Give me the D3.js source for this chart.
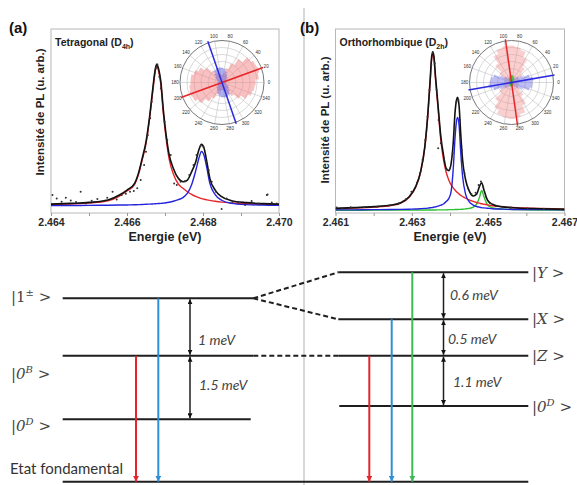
<!DOCTYPE html>
<html><head><meta charset="utf-8">
<script src="https://cdn.jsdelivr.net/npm/d3@7"></script>
<style>body{margin:0;background:#fff}svg{display:block}</style>
</head><body>
<script>
// ===== DATA =====
// Panel (a) : Tetragonal
const energyA = [2.4640,2.4645,2.4650,2.4655,2.4658,2.4660,2.4662,2.4663,2.4664,2.4665,2.4666,2.46668,2.46674,2.46678,2.46683,2.46689,2.46696,2.46703,2.46711,2.46722,2.46735,2.46748,2.46759,2.46770,2.46781,2.46789,2.46796,2.46803,2.46810,2.46818,2.46832,2.46849,2.46875,2.46915,2.46959,2.4700];
const fitA  = [0.013,0.018,0.025,0.042,0.077,0.112,0.16,0.23,0.336,0.453,0.642,0.83,0.96,1.0,0.97,0.878,0.666,0.5,0.36,0.265,0.195,0.171,0.183,0.241,0.312,0.395,0.435,0.406,0.312,0.195,0.112,0.065,0.037,0.023,0.016,0.013];
const redA  = [0.010,0.014,0.020,0.036,0.07,0.105,0.152,0.22,0.325,0.44,0.63,0.815,0.945,0.985,0.955,0.86,0.645,0.475,0.33,0.225,0.155,0.123,0.1,0.082,0.067,0.058,0.052,0.047,0.043,0.039,0.033,0.027,0.021,0.015,0.011,0.009];
const blueA = [0.002,0.003,0.004,0.005,0.006,0.007,0.008,0.009,0.01,0.012,0.013,0.014,0.015,0.016,0.017,0.018,0.02,0.022,0.026,0.033,0.044,0.06,0.09,0.15,0.25,0.335,0.385,0.355,0.27,0.16,0.08,0.04,0.018,0.009,0.006,0.004];
const dotsEnergyA = [2.46404,2.46415,2.46428,2.46439,2.46452,2.46466,2.46478,2.46492,2.46507,2.46522,2.46536,2.46548,2.46562,2.46573,2.46586,2.46597,2.46608,2.46618,2.46627,2.46636,2.46645,2.46650,2.46655,2.46661,2.46665,2.46669,2.46676,2.46680,2.46685,2.46689,2.46694,2.46699,2.46706,2.46715,2.46724,2.46731,2.46741,2.46753,2.46764,2.46775,2.46783,2.46794,2.46801,2.46808,2.46815,2.46823,2.46834,2.46849,2.46862,2.46878,2.46893,2.46911,2.46928,2.46946,2.46968,2.46981,2.46994,2.4697];
const dotsIntA = [0.077,0.053,0.030,0.058,0.039,0.028,0.101,0.018,0.037,0.049,0.035,0.058,0.101,0.046,0.077,0.086,0.101,0.105,0.124,0.183,0.289,0.383,0.501,0.619,0.736,0.843,0.972,1.0,0.913,0.831,0.713,0.595,0.465,0.359,0.159,0.148,0.171,0.176,0.218,0.289,0.359,0.425,0.418,0.312,0.254,0.171,0.101,-0.022,0.053,0.030,0.025,0.006,0.035,0.018,0.077,0.025,0.018,0.08];
const ticksA = [2.464,2.466,2.468,2.470];

// Panel (b) : Orthorhombique
const energyB = [2.4610,2.46148,2.46201,2.46245,2.46271,2.46293,2.46310,2.46323,2.46334,2.46342,2.46348,2.46352,2.46355,2.46358,2.46362,2.46369,2.46376,2.46383,2.46390,2.46397,2.46403,2.46409,2.46413,2.46417,2.46420,2.46424,2.46428,2.46433,2.46441,2.46450,2.46461,2.46470,2.46477,2.46483,2.46489,2.46498,2.46511,2.46533,2.46576,2.46638,2.4670];
const fitB   = [0.012,0.017,0.023,0.033,0.048,0.086,0.149,0.244,0.401,0.611,0.822,0.969,1.0,0.969,0.843,0.653,0.464,0.348,0.264,0.25,0.296,0.443,0.611,0.695,0.712,0.653,0.485,0.317,0.191,0.124,0.09,0.103,0.149,0.174,0.128,0.065,0.038,0.023,0.015,0.01,0.006];
const redB   = [0.01,0.014,0.02,0.03,0.045,0.082,0.145,0.24,0.395,0.6,0.81,0.955,0.985,0.955,0.83,0.635,0.44,0.32,0.24,0.19,0.16,0.14,0.128,0.117,0.11,0.102,0.095,0.087,0.076,0.066,0.056,0.049,0.045,0.041,0.038,0.034,0.029,0.023,0.016,0.011,0.008];
const blueB  = [0.003,0.003,0.004,0.005,0.006,0.007,0.008,0.01,0.012,0.014,0.016,0.017,0.018,0.02,0.022,0.026,0.032,0.04,0.055,0.075,0.12,0.28,0.45,0.56,0.585,0.53,0.37,0.215,0.1,0.055,0.033,0.024,0.02,0.017,0.015,0.013,0.01,0.008,0.005,0.004,0.003];
const greenB = [0,0,0.001,0.001,0.001,0.001,0.001,0.001,0.002,0.002,0.002,0.002,0.002,0.002,0.002,0.003,0.003,0.003,0.003,0.004,0.004,0.004,0.005,0.005,0.005,0.006,0.006,0.007,0.009,0.012,0.02,0.04,0.08,0.125,0.085,0.035,0.015,0.008,0.004,0.002,0.001];
const dotsEnergyB = [2.46103,2.46118,2.46140,2.46175,2.46210,2.46240,2.46266,2.46284,2.46299,2.46313,2.46321,2.46328,2.46335,2.46341,2.46346,2.46351,2.46355,2.46360,2.46365,2.46370,2.46376,2.46369,2.46384,2.46393,2.46400,2.46407,2.46412,2.46417,2.46422,2.46426,2.46431,2.46438,2.46447,2.46456,2.46467,2.46475,2.46481,2.46487,2.46494,2.46505,2.46524,2.46559,2.46603,2.46646,2.46690];
const dotsIntB = [0.017,0.012,0.019,0.019,0.023,0.031,0.044,0.069,0.117,0.174,0.233,0.317,0.443,0.590,0.758,0.916,0.994,0.927,0.758,0.569,0.422,0.391,0.317,0.254,0.265,0.359,0.527,0.685,0.695,0.569,0.380,0.233,0.139,0.103,0.111,0.16,0.181,0.149,0.086,0.044,0.027,0.017,0.012,0.010,0.008];
const ticksB = [2.461,2.463,2.465,2.467];

// Polar insets (angle bins every 10 deg, relative radius)
const polarBins = d3.range(0, 360, 10);
const polarLabels = d3.range(0, 360, 20);
const polarPinkA = [0.8,0.88,0.92,0.9,0.85,0.68,0.5,0.35,0.22,0.18,0.2,0.2,0.25,0.35,0.5,0.62,0.7,0.75,0.75,0.78,0.8,0.78,0.7,0.55,0.42,0.3,0.2,0.18,0.2,0.22,0.3,0.4,0.55,0.68,0.75,0.78];
const polarBlueA = [0.1,0.1,0.1,0.12,0.14,0.18,0.22,0.28,0.32,0.35,0.36,0.36,0.33,0.27,0.2,0.15,0.12,0.1,0.1,0.1,0.1,0.12,0.14,0.18,0.22,0.28,0.32,0.35,0.36,0.36,0.33,0.27,0.2,0.15,0.12,0.1];
const polarAxesA = [20, 109];
const polarPinkB = [0.15,0.15,0.17,0.2,0.3,0.45,0.65,0.8,0.85,0.88,0.88,0.85,0.75,0.55,0.35,0.22,0.17,0.15,0.15,0.15,0.17,0.22,0.35,0.55,0.72,0.82,0.85,0.87,0.85,0.78,0.6,0.4,0.25,0.18,0.15,0.15];
const polarBlueB = [0.5,0.52,0.45,0.3,0.2,0.14,0.1,0.08,0.07,0.07,0.07,0.08,0.1,0.14,0.2,0.3,0.45,0.5,0.52,0.55,0.45,0.3,0.2,0.14,0.1,0.08,0.07,0.07,0.07,0.08,0.1,0.14,0.2,0.3,0.45,0.5];
const polarGreenB = [0.04,0.04,0.05,0.06,0.08,0.1,0.13,0.15,0.17,0.18,0.17,0.15,0.12,0.1,0.08,0.06,0.05,0.04,0.04,0.04,0.05,0.05,0.06,0.07,0.08,0.09,0.1,0.1,0.09,0.08,0.07,0.06,0.05,0.05,0.04,0.04];
const polarAxesB = [98, 10];

// Energy-level diagram
const levelNamesA = ["1","0","0"];
const levelSupA   = ["±","B","D"];
const gapLabelsA  = ["1 meV","1.5 meV"];
const levelNamesB = ["Y","X","Z","0"];
const levelSupB   = ["","","","D"];
const gapLabelsB  = ["0.6 meV","0.5 meV","1.1 meV"];
const groundLabel = "Etat fondamental";

// ===== DRAWING =====
const W = 577, H = 485;
const svg = d3.select("body").append("svg").attr("width", W).attr("height", H);
const defs = svg.append("defs");
const COL = {red:"#e8262a", blue:"#2424dc", green:"#2fc02f", black:"#111"};
const SANS = "'Liberation Sans', Arial, sans-serif";

svg.append("line").attr("x1",304).attr("x2",304).attr("y1",8).attr("y2",H)
  .attr("stroke","#b0b0b0").attr("stroke-width",1);

function spectrum(o) {
  const x = d3.scaleLinear().domain(o.xDomain).range([o.x0, o.x1]);
  const y = d3.scaleLinear().domain(o.yDomain).range([213, 29]);
  const g = svg.append("g");
  defs.append("clipPath").attr("id", o.id).append("rect")
    .attr("x", o.x0).attr("y", 29).attr("width", o.x1 - o.x0).attr("height", 184);
  g.append("rect").attr("x", o.x0).attr("y", 29).attr("width", o.x1 - o.x0).attr("height", 184)
    .attr("fill", "none").attr("stroke", "#b8b8b8").attr("stroke-width", 1);
  const allTicks = d3.range(7).map(i => o.xDomain[0] + i * 0.001);
  const isMajor = v => o.ticks.some(t => Math.abs(t - v) < 1e-7);
  const ax = g.append("g").attr("transform", "translate(0,213)")
    .call(d3.axisBottom(x).tickValues(allTicks).tickSize(3).tickPadding(3)
      .tickFormat(v => isMajor(v) ? d3.format(".3f")(v) : ""));
  ax.select(".domain").remove();
  ax.selectAll(".tick line").attr("stroke", "#999");
  ax.selectAll(".tick text").attr("font-family", SANS).attr("font-weight", "bold")
    .attr("font-size", 10.5).attr("fill", "#2a2a2a");
  g.append("text").attr("x", (o.x0 + o.x1) / 2).attr("y", 241).attr("text-anchor", "middle")
    .attr("font-family", SANS).attr("font-weight", "bold").attr("font-size", 12.5).attr("fill", "#222")
    .text("Energie (eV)");
  g.append("text").attr("transform", `translate(${o.x0 - 7},${o.yLabelC}) rotate(-90)`)
    .attr("text-anchor", "middle").attr("font-family", SANS).attr("font-weight", "bold")
    .attr("font-size", 11.5).attr("fill", "#222").text("Intensité de PL (u. arb.)");
  g.append("text").attr("x", o.letterX).attr("y", 33).attr("font-family", SANS)
    .attr("font-weight", "bold").attr("font-size", 15).attr("fill", "#111").text(o.letter);
  const tt = g.append("text").attr("x", o.x0 + 4).attr("y", 46).attr("font-family", SANS)
    .attr("font-weight", "bold").attr("font-size", 10.5).attr("fill", "#222");
  tt.append("tspan").text(o.title + " (D");
  tt.append("tspan").attr("font-size", 7).attr("dy", 3).text(o.sub);
  tt.append("tspan").attr("dy", -3).text(")");

  const plot = g.append("g").attr("clip-path", `url(#${o.id})`);
  const line = d3.line().x(d => x(d[0])).y(d => y(d[1])).curve(d3.curveMonotoneX);
  o.curves.forEach(c => {
    plot.append("path").datum(o.energy.map((e, i) => [e, c.values[i]]))
      .attr("d", line).attr("fill", "none").attr("stroke", c.color).attr("stroke-width", c.w || 1.4);
  });
  plot.selectAll(null).data(o.dotsE.map((e, i) => [e, o.dotsI[i]])).join("circle")
    .attr("cx", d => x(d[0])).attr("cy", d => y(d[1])).attr("r", 1).attr("fill", "#333");
}

spectrum({id:"clipA", xDomain:[2.464,2.470], x0:51, x1:279, yDomain:[-0.05,1.25],
  ticks:ticksA, letter:"(a)", letterX:9, title:"Tetragonal", sub:"4h", yLabelC:112,
  energy:energyA, dotsE:dotsEnergyA, dotsI:dotsIntA,
  curves:[{values:redA,color:COL.red},{values:blueA,color:COL.blue},{values:fitA,color:COL.black,w:1.6}]});

spectrum({id:"clipB", xDomain:[2.461,2.467], x0:335.5, x1:564.5, yDomain:[-0.017,1.143],
  ticks:ticksB, letter:"(b)", letterX:300, title:"Orthorhombique", sub:"2h", yLabelC:120,
  energy:energyB, dotsE:dotsEnergyB, dotsI:dotsIntB,
  curves:[{values:greenB,color:COL.green},{values:redB,color:COL.red},{values:blueB,color:COL.blue},{values:fitB,color:COL.black,w:1.6}]});

function polar(cx, cy, R, fills, axes) {
  const g = svg.append("g").attr("transform", `translate(${cx},${cy})`);
  const r = d3.scaleLinear().domain([0, 1]).range([0, R]);
  const rad = d => d * Math.PI / 180;
  g.append("circle").attr("r", R).attr("fill", "#fff");
  // grid first, translucent fills tint it
  d3.range(1, 6).forEach(k => g.append("circle").attr("r", r(k / 6)).attr("fill", "none")
    .attr("stroke", "#b5b5b5").attr("stroke-width", 0.5));
  polarLabels.forEach(a => g.append("line").attr("x1", 0).attr("y1", 0)
    .attr("x2", R * Math.cos(rad(a))).attr("y2", -R * Math.sin(rad(a)))
    .attr("stroke", "#b5b5b5").attr("stroke-width", 0.5));
  const radial = d3.lineRadial().angle(d => d[0]).radius(d => d[1]).curve(d3.curveLinearClosed);
  fills.forEach(f => {
    const pts = [];
    polarBins.forEach((a, i) => {
      [-5, -2.5, 0, 2.5, 5].forEach(o => pts.push([rad(90 - (a + o)), r(f.values[i])]));
    });
    g.append("path").attr("d", radial(pts)).attr("fill", f.color);
  });
  g.append("circle").attr("r", R).attr("fill", "none").attr("stroke", "#666").attr("stroke-width", 0.9);
  g.selectAll("text").data(polarLabels).join("text")
    .attr("x", a => (R + 5) * Math.cos(rad(a))).attr("y", a => -(R + 5) * Math.sin(rad(a)) + 1.7)
    .attr("text-anchor", "middle").attr("font-family", SANS).attr("font-size", 4.6).attr("fill", "#333")
    .text(a => a);
  axes.forEach(ax => {
    const L = r(1.04);
    g.append("line").attr("x1", L * Math.cos(rad(ax.angle))).attr("y1", -L * Math.sin(rad(ax.angle)))
      .attr("x2", -L * Math.cos(rad(ax.angle))).attr("y2", L * Math.sin(rad(ax.angle)))
      .attr("stroke", ax.color).attr("stroke-width", 1.5);
  });
}

polar(222, 82.5, 42,
  [{values:polarPinkA, color:"rgba(242,130,130,0.5)"}, {values:polarBlueA, color:"rgba(100,100,225,0.5)"}],
  [{angle:polarAxesA[0], color:"#e8262a"}, {angle:polarAxesA[1], color:"#2a2ae0"}]);
polar(511.5, 82.5, 42,
  [{values:polarPinkB, color:"rgba(242,140,140,0.42)"}, {values:polarBlueB, color:"rgba(110,110,230,0.45)"},
   {values:polarGreenB, color:"rgba(40,190,40,0.8)"}],
  [{angle:polarAxesB[0], color:"#e8262a"}, {angle:polarAxesB[1], color:"#2a2ae0"}]);

// ===== Energy level diagram =====
function marker(id, color, size) {
  defs.append("marker").attr("id", id).attr("viewBox", "0 0 10 10").attr("refX", 10).attr("refY", 5)
    .attr("markerWidth", size).attr("markerHeight", size).attr("markerUnits", "userSpaceOnUse")
    .attr("orient", "auto-start-reverse")
    .append("path").attr("d", "M0,0L10,5L0,10z").attr("fill", color);
}
marker("mRed", "#e4252b", 6); marker("mBlue", "#2f8fd6", 6); marker("mGreen", "#3dba55", 6);
marker("mBlack", "#111", 5);

const lv = svg.append("g");
const LINE = "#1e1e1e";
function seg(x1, y1, x2, y2, opt = {}) {
  const l = lv.append("line").attr("x1", x1).attr("y1", y1).attr("x2", x2).attr("y2", y2)
    .attr("stroke", opt.color || LINE).attr("stroke-width", opt.w || 2);
  if (opt.dash) l.attr("stroke-dasharray", opt.dash);
  if (opt.end) l.attr("marker-end", `url(#${opt.end})`);
  if (opt.start) l.attr("marker-start", `url(#${opt.start})`);
  return l;
}
const xL0 = 62.7, xL1 = 253.3, xR0 = 338.3, xR1 = 528.3, yG = 481.7;
const yA = [298.3, 355.7, 419.3];
const yB = [272.3, 319.3, 355.7, 406];

seg(xL0, yA[0], xL1, yA[0]);
seg(xL0, yA[1], xL1, yA[1]);
seg(xL0, yA[2], 250.7, yA[2]);
seg(xL0, yG, xR1, yG);
seg(xL1, yA[0], xR0, yB[0], {dash:"5,3"});
seg(xL1, yA[0], xR0, yB[1], {dash:"5,3"});
seg(xL1, yA[1], xR0, yB[2], {dash:"5,3"});
yB.forEach((y, i) => seg(i === 3 ? 339.3 : xR0, y, xR1, y));

seg(136, yA[1], 136, yG, {color:"#e4252b", end:"mRed"});
seg(158.3, yA[0], 158.3, yG, {color:"#2f8fd6", end:"mBlue"});
seg(369.3, yB[2], 369.3, yG, {color:"#e4252b", end:"mRed"});
seg(391.7, yB[1], 391.7, yG, {color:"#2f8fd6", end:"mBlue"});
seg(412.3, yB[0], 412.3, yG, {color:"#3dba55", end:"mGreen"});

seg(190, yA[0] + 1, 190, yA[1] - 1, {w:1.5, start:"mBlack", end:"mBlack"});
seg(190, yA[1] + 1, 190, yA[2] - 1, {w:1.5, start:"mBlack", end:"mBlack"});
seg(443.5, yB[0] + 1, 443.5, yB[1] - 1, {w:1.5, start:"mBlack", end:"mBlack"});
seg(443.5, yB[1] + 1, 443.5, yB[2] - 1, {w:1.5, start:"mBlack", end:"mBlack"});
seg(443.5, yB[2] + 1, 443.5, yB[3] - 1, {w:1.5, start:"mBlack", end:"mBlack"});

const SERIF = "'DejaVu Serif', serif";
function ket(x, y, name, sup) {
  const t = lv.append("text").attr("x", x).attr("y", y).attr("font-family", SERIF)
    .attr("font-size", 15).attr("fill", "#444");
  t.append("tspan").text("|");
  t.append("tspan").attr("font-style", name === "1" ? "normal" : "italic").text(name);
  if (sup) {
    t.append("tspan").attr("font-size", 10).attr("dy", -6)
      .attr("font-style", sup === "±" ? "normal" : "italic").text(sup);
    t.append("tspan").attr("dy", 6).text(" >");
  } else {
    t.append("tspan").text(" >");
  }
}
const ketYA = [302, 379, 431];
levelNamesA.forEach((n, i) => ket(11, ketYA[i], n, levelSupA[i]));
const ketYB = [278, 324, 361, 412];
levelNamesB.forEach((n, i) => ket(532, ketYB[i], n, levelSupB[i]));

const gapPosA = [[198, 345], [199, 390]];
gapLabelsA.forEach((s, i) => lv.append("text").attr("x", gapPosA[i][0]).attr("y", gapPosA[i][1])
  .attr("font-family", "Lato, sans-serif").attr("font-style", "italic").attr("font-size", 14)
  .attr("fill", "#444").text(s));
const gapPosB = [[450, 300], [448, 344], [453, 387]];
gapLabelsB.forEach((s, i) => lv.append("text").attr("x", gapPosB[i][0]).attr("y", gapPosB[i][1])
  .attr("font-family", "Lato, sans-serif").attr("font-style", "italic").attr("font-size", 14)
  .attr("fill", "#444").text(s));

lv.append("text").attr("x", 10).attr("y", 474).attr("font-family", "Lato, sans-serif")
  .attr("font-size", 15).attr("fill", "#333").text(groundLabel);
</script>
</body></html>
